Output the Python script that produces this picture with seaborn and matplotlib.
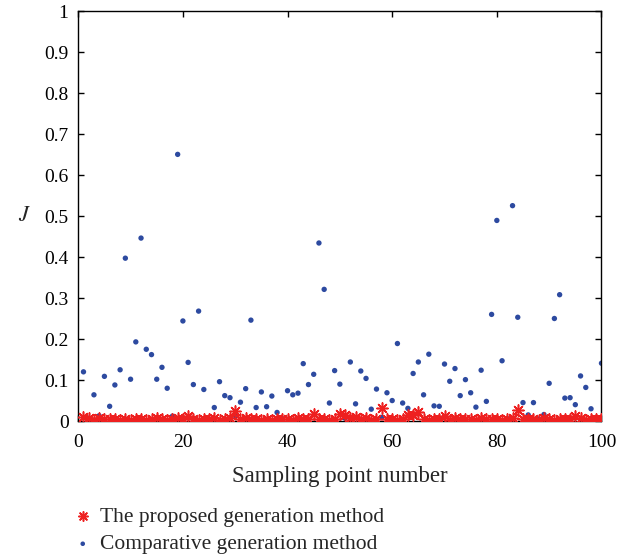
import numpy as np
import pandas as pd
import matplotlib
matplotlib.use("Agg")
import matplotlib.pyplot as plt
import seaborn as sns

sample_idx = list(range(1, 101))

comparative = [
    0.121, 0.008, 0.065, 0.014, 0.110, 0.037, 0.089, 0.126, 0.398, 0.103,
    0.194, 0.447, 0.176, 0.163, 0.103, 0.132, 0.081, 0.013, 0.651, 0.245,
    0.144, 0.090, 0.269, 0.078, 0.006, 0.034, 0.097, 0.063, 0.058, 0.014,
    0.047, 0.080, 0.247, 0.034, 0.072, 0.036, 0.062, 0.022, 0.007, 0.075,
    0.065, 0.069, 0.141, 0.090, 0.115, 0.435, 0.322, 0.045, 0.124, 0.091,
    0.008, 0.145, 0.043, 0.123, 0.105, 0.030, 0.079, 0.010, 0.070, 0.051,
    0.190, 0.045, 0.032, 0.117, 0.145, 0.065, 0.164, 0.038, 0.037, 0.140,
    0.098, 0.129, 0.063, 0.102, 0.070, 0.035, 0.125, 0.049, 0.261, 0.490,
    0.148, 0.007, 0.526, 0.254, 0.046, 0.016, 0.046, 0.006, 0.017, 0.093,
    0.251, 0.309, 0.057, 0.058, 0.041, 0.111, 0.083, 0.031, 0.006, 0.142,
]

proposed = [
    0.010, 0.008, 0.004, 0.009, 0.006, 0.005, 0.007, 0.004, 0.006, 0.003,
    0.005, 0.007, 0.004, 0.006, 0.008, 0.005, 0.003, 0.006, 0.009, 0.005,
    0.014, 0.006, 0.004, 0.007, 0.005, 0.008, 0.003, 0.006, 0.009, 0.025,
    0.006, 0.008, 0.005, 0.007, 0.004, 0.006, 0.003, 0.005, 0.007, 0.006,
    0.004, 0.008, 0.005, 0.006, 0.019, 0.007, 0.005, 0.004, 0.006, 0.018,
    0.016, 0.008, 0.012, 0.006, 0.009, 0.004, 0.007, 0.034, 0.005, 0.006,
    0.004, 0.007, 0.017, 0.016, 0.024, 0.005, 0.004, 0.007, 0.006, 0.013,
    0.004, 0.008, 0.005, 0.006, 0.007, 0.004, 0.009, 0.006, 0.005, 0.007,
    0.004, 0.006, 0.008, 0.028, 0.007, 0.005, 0.006, 0.004, 0.008, 0.006,
    0.003, 0.007, 0.005, 0.006, 0.014, 0.008, 0.004, 0.007, 0.006, 0.005,
]

df = pd.DataFrame({"idx": sample_idx, "comp": comparative, "prop": proposed})

sns.set_theme(style="ticks")
plt.rcParams["font.family"] = ["Liberation Serif", "DejaVu Serif"]
plt.rcParams["mathtext.fontset"] = "stix"

fig = plt.figure(figsize=(6.27, 5.59), dpi=100)
ax = fig.add_axes([0.1248, 0.246, 0.8345, 0.734])

sns.scatterplot(data=df, x="idx", y="prop", ax=ax, marker=(8, 2, 0), s=64,
                color="#ee2020", edgecolor="#ee2020", linewidth=1.15,
                label="The proposed generation method", zorder=3)
sns.scatterplot(data=df, x="idx", y="comp", ax=ax, marker="o", s=15,
                color="#2d4aa0", edgecolor="none",
                label="Comparative generation method", zorder=2)

ax.set_xlim(0, 100)
ax.set_ylim(0, 1)
ax.set_xticks([0, 20, 40, 60, 80, 100])
ax.set_yticks([0, 0.1, 0.2, 0.3, 0.4, 0.5, 0.6, 0.7, 0.8, 0.9, 1])
ax.set_yticklabels(["0", "0.1", "0.2", "0.3", "0.4", "0.5", "0.6", "0.7", "0.8", "0.9", "1"])
ax.tick_params(direction="in", length=4, width=1, labelsize=14, top=True, right=True,
               colors="black")
ax.tick_params(axis="x", pad=9)
ax.tick_params(axis="y", pad=7)
for sp in ax.spines.values():
    sp.set_visible(True)
    sp.set_color("black")
    sp.set_linewidth(1.0)

ax.set_xlabel("Sampling point number", fontsize=16.5, labelpad=11)
ax.set_ylabel("$J$", fontsize=16, rotation=0, labelpad=14, va="center")

handles, labels = ax.get_legend_handles_labels()
ax.get_legend().remove()
fig.legend(handles, labels, loc="upper left", bbox_to_anchor=(0.1148, 0.0935),
           frameon=False, fontsize=15.5, handlelength=1.0, handletextpad=0.3,
           labelspacing=0.35, borderpad=0, borderaxespad=0, markerscale=0.85)

fig.savefig("out.png", dpi=100)
